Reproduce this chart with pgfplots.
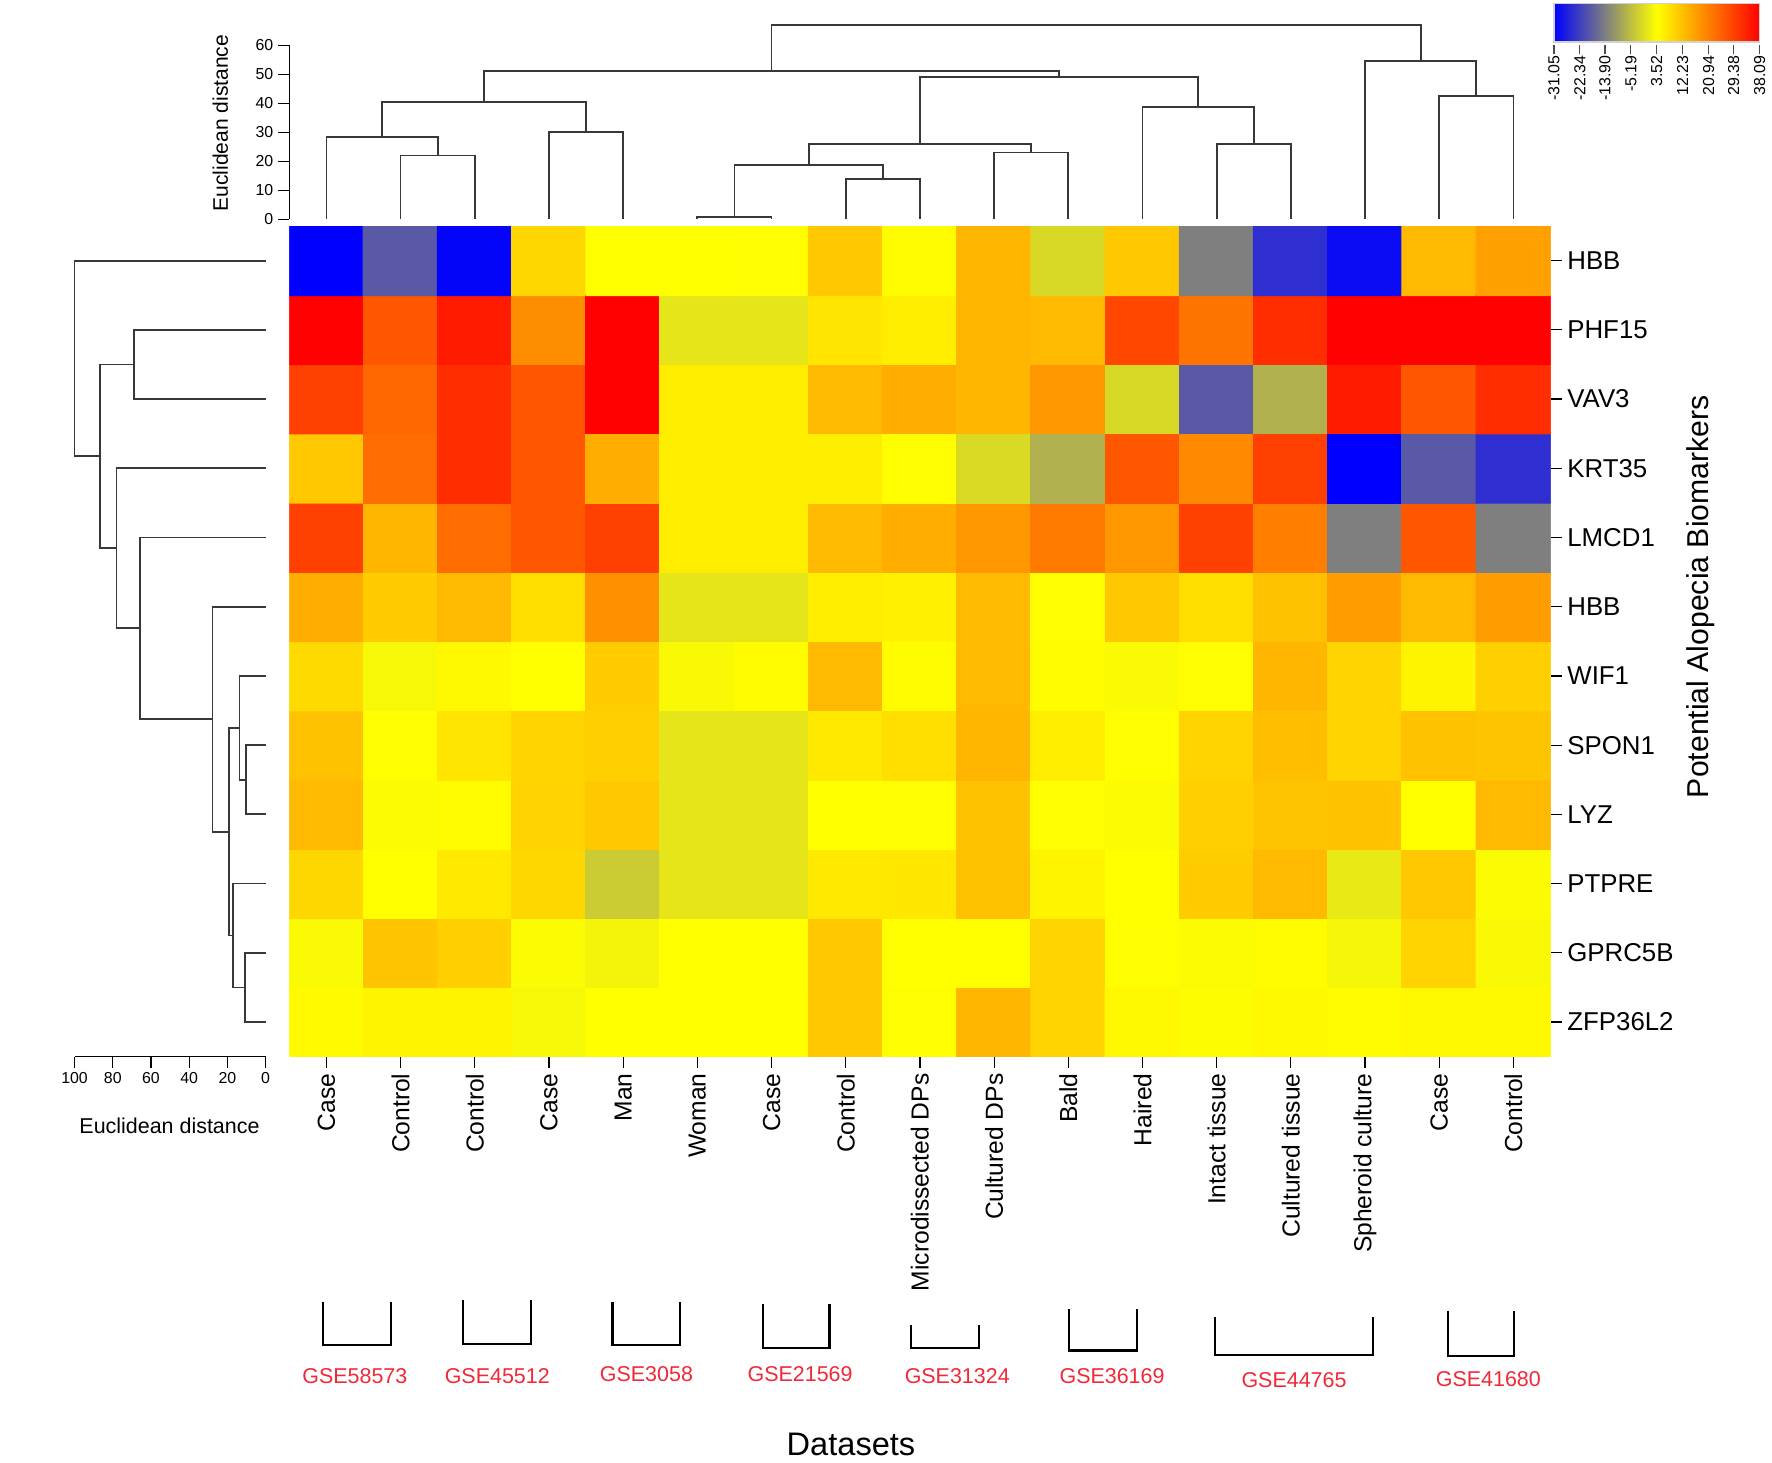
\documentclass[border=0pt]{standalone}
\usepackage{fontspec}
\setmainfont{Liberation Sans}
\usepackage{pgfplots}
\usepackage{pgfplotstable}
\pgfplotsset{compat=1.18}

\definecolor{dendro}{gray}{0.22}
\definecolor{gsered}{RGB}{240,40,55}

% heatmap values: x = column, y = row from bottom (1 = ZFP36L2, 12 = HBB)
\pgfplotstableread{
x y v
1 1 4.2
2 1 5
3 1 5
4 1 2.5
5 1 3.5
6 1 3.5
7 1 3.5
8 1 11
9 1 3.7
10 1 13.5
11 1 9.5
12 1 4.5
13 1 3.2
14 1 4.5
15 1 4
16 1 4.5
17 1 4.5
1 2 2.8
2 2 11.5
3 2 10
4 2 3
5 2 2
6 2 3.5
7 2 3.5
8 2 11
9 2 3.6
10 2 3.6
11 2 9.5
12 2 3.7
13 2 3
14 2 4
15 2 2.3
16 2 9.5
17 2 2.7
1 3 9
2 3 3.6
3 3 6.5
4 3 9
5 3 -3.5
6 3 0
7 3 0
8 3 6.5
9 3 6.8
10 3 12
11 3 5
12 3 3.6
13 3 10.5
14 3 13
15 3 0.5
16 3 11
17 3 3
1 4 13
2 4 3
3 4 4
4 4 9.6
5 4 11
6 4 0
7 4 0
8 4 3.6
9 4 3.8
10 4 12
11 4 3.7
12 4 3
13 4 10
14 4 11.5
15 4 12
16 4 3.6
17 4 13
1 5 12
2 5 3.7
3 5 7
4 5 9.5
5 5 10
6 5 0
7 5 0
8 5 6.5
9 5 8
10 5 13.5
11 5 6
12 5 3.8
13 5 9.5
14 5 12.3
15 5 9.5
16 5 12
17 5 11.5
1 6 8.5
2 6 2.5
3 6 4.5
4 6 3.5
5 6 10.5
6 6 2.7
7 6 4
8 6 13
9 6 4
10 6 13
11 6 4
12 6 2.8
13 6 3.8
14 6 13.5
15 6 9.5
16 6 5
17 6 10
1 7 14.5
2 7 10.5
3 7 13
4 7 8
5 7 18.5
6 7 0
7 7 0
8 7 6
9 7 5.5
10 7 13
11 7 3.8
12 7 11
13 7 8
14 7 12
15 7 17
16 7 13
17 7 17
1 8 29.5
2 8 13.5
3 8 23.5
4 8 26.5
5 8 29.5
6 8 6
7 8 6
8 8 13
9 8 14.5
10 8 17.5
11 8 21.5
12 8 17.5
13 8 29.5
14 8 21
15 8 -13.8
16 8 26.5
17 8 -13.8
1 9 11
2 9 23.5
3 9 32
4 9 26.5
5 9 14.5
6 9 6
7 9 6
8 9 6
9 9 3.8
10 9 -1.5
11 9 -7.2
12 9 26.5
13 9 19.5
14 9 29.5
15 9 -31
16 9 -19
17 9 -24.8
1 10 29.5
2 10 24
3 10 32
4 10 26.5
5 10 38
6 10 6
7 10 6
8 10 13
9 10 14.5
10 10 13.5
11 10 17.5
12 10 -1.7
13 10 -19
14 10 -7.2
15 10 34.5
16 10 26.5
17 10 32
1 11 38
2 11 26.5
3 11 34.5
4 11 19
5 11 38
6 11 0
7 11 0
8 11 7
9 11 6
10 11 13.5
11 11 13
12 11 28.5
13 11 22.5
14 11 32
15 11 38
16 11 38
17 11 38
1 12 -31
2 12 -19
3 12 -30.5
4 12 9
5 12 3.5
6 12 3.5
7 12 3.8
8 12 11
9 12 4
10 12 13.5
11 12 -1.7
12 12 11
13 12 -13.8
14 12 -24.8
15 12 -29.5
16 12 13
17 12 16.5
}\hmdata

\pgfplotsset{dl/.style={draw=dendro, line width=0.45pt, mark=none}}

\begin{document}
\begin{tikzpicture}
\path (0,0) rectangle (156.8mm,-129.4mm);

% heatmap
\begin{axis}[
    at={(25.6mm,-20mm)}, anchor=north west,
    scale only axis, width=111.6mm, height=73.5mm,
    xmin=0.5, xmax=17.5, ymin=0.5, ymax=12.5,
    axis x line*=bottom, axis y line*=right,
    axis line style={draw=none},
    tick align=outside, major tick length=1mm,
    tick style={black, line width=0.3pt},
    xtick={1,...,17}, ytick={1,...,12},
    xticklabels={Case,Control,Control,Case,Man,Woman,Case,Control,Microdissected DPs,Cultured DPs,Bald,Haired,Intact tissue,Cultured tissue,Spheroid culture,Case,Control},
    yticklabels={ZFP36L2,GPRC5B,PTPRE,LYZ,SPON1,WIF1,HBB,LMCD1,KRT35,VAV3,PHF15,HBB},
    xticklabel style={rotate=90, anchor=east, font=\fontsize{6.2}{7}\selectfont, inner sep=1.2pt},
    yticklabel style={font=\fontsize{6.5}{7}\selectfont, inner sep=1.2pt},
    colormap={byr}{rgb=(0,0,1) rgb=(1,1,0) rgb=(1,0,0)},
    point meta min=-31.05, point meta max=38.09,
    colorbar horizontal,
    colorbar style={
        at={(1.0027,1.268)}, anchor=north west,
        scale only axis, width=18.2mm, height=3.4mm,
        xtick={-31.05,-22.34,-13.90,-5.19,3.52,12.23,20.94,29.38,38.09},
        xticklabels={-31.05,-22.34,-13.90,-5.19,3.52,12.23,20.94,29.38,38.09},
        xticklabel style={rotate=90, anchor=east, font=\fontsize{4}{4}\selectfont, inner sep=1pt},
        xtick pos=left, tick align=outside, major tick length=0.8mm,
        xtick style={black!70, yshift=-0.3mm},
        axis line style={gray!35},
    },
]
\addplot[matrix plot*, mesh/cols=17, point meta=explicit]
    table[x=x, y=y, meta=v] {\hmdata};
\end{axis}

% column dendrogram
\begin{axis}[
    at={(25.6mm,-19.4mm)}, anchor=south west,
    scale only axis, width=111.6mm, height=15.4mm,
    xmin=0.5, xmax=17.5, ymin=0, ymax=60,
    clip=false,
    axis y line*=left, axis x line=none,
    ytick={0,10,...,60},
    tick align=outside, major tick length=1mm,
    tick style={black, line width=0.3pt},
    axis line style={black, line width=0.4pt},
    yticklabel style={font=\fontsize{4}{4}\selectfont, inner sep=1pt},
    /pgf/number format/assume math mode=true,
]
\addplot[dl] coordinates {(2,0) (2,22) (3,22) (3,0)};
\addplot[dl] coordinates {(1,0) (1,28.4) (2.5,28.4) (2.5,22)};
\addplot[dl] coordinates {(4,0) (4,30) (5,30) (5,0)};
\addplot[dl] coordinates {(1.75,28.4) (1.75,40.5) (4.5,40.5) (4.5,30)};
\addplot[dl] coordinates {(6,0) (6,0.8) (7,0.8) (7,0)};
\addplot[dl] coordinates {(8,0) (8,14) (9,14) (9,0)};
\addplot[dl] coordinates {(6.5,0.8) (6.5,18.7) (8.5,18.7) (8.5,14)};
\addplot[dl] coordinates {(10,0) (10,23) (11,23) (11,0)};
\addplot[dl] coordinates {(7.5,18.7) (7.5,26) (10.5,26) (10.5,23)};
\addplot[dl] coordinates {(13,0) (13,26) (14,26) (14,0)};
\addplot[dl] coordinates {(12,0) (12,38.6) (13.5,38.6) (13.5,26)};
\addplot[dl] coordinates {(9,26) (9,49) (12.75,49) (12.75,38.6)};
\addplot[dl] coordinates {(3.125,40.5) (3.125,51) (10.875,51) (10.875,49)};
\addplot[dl] coordinates {(16,0) (16,42.5) (17,42.5) (17,0)};
\addplot[dl] coordinates {(15,0) (15,54.5) (16.5,54.5) (16.5,42.5)};
\addplot[dl] coordinates {(7,51) (7,67) (15.75,67) (15.75,54.5)};
\end{axis}

% row dendrogram
\begin{axis}[
    at={(6.6mm,-20mm)}, anchor=north west,
    scale only axis, width=16.9mm, height=73.5mm,
    xmin=0, xmax=100, x dir=reverse, ymin=0.5, ymax=12.5,
    clip=false,
    axis x line*=bottom, axis y line=none,
    xtick={0,20,...,100},
    tick align=outside, major tick length=1mm,
    tick style={black, line width=0.3pt},
    axis line style={black, line width=0.4pt},
    xticklabel style={font=\fontsize{4}{4}\selectfont, inner sep=1pt},
    /pgf/number format/assume math mode=true,
]
\addplot[dl] coordinates {(0,2) (10.8,2) (10.8,1) (0,1)};
\addplot[dl] coordinates {(0,3) (17.2,3) (17.2,1.5) (10.8,1.5)};
\addplot[dl] coordinates {(0,5) (10.3,5) (10.3,4) (0,4)};
\addplot[dl] coordinates {(0,6) (13.7,6) (13.7,4.5) (10.3,4.5)};
\addplot[dl] coordinates {(13.7,5.25) (19.3,5.25) (19.3,2.25) (17.2,2.25)};
\addplot[dl] coordinates {(0,7) (27.8,7) (27.8,3.75) (19.3,3.75)};
\addplot[dl] coordinates {(0,8) (65.6,8) (65.6,5.375) (27.8,5.375)};
\addplot[dl] coordinates {(0,9) (78,9) (78,6.6875) (65.6,6.6875)};
\addplot[dl] coordinates {(0,11) (69,11) (69,10) (0,10)};
\addplot[dl] coordinates {(69,10.5) (86.8,10.5) (86.8,7.84375) (78,7.84375)};
\addplot[dl] coordinates {(0,12) (100,12) (100,9.171875) (86.8,9.171875)};
\end{axis}

% titles and dataset brackets
\begin{scope}[x=0.1mm, y=-0.1mm, every node/.style={inner sep=0pt}]
\node[rotate=90, font=\fontsize{5.3}{6}\selectfont] at (195,109) {Euclidean distance};
\node[font=\fontsize{5.4}{6}\selectfont] at (150,996) {Euclidean distance};
\node[rotate=90, font=\fontsize{7.6}{9}\selectfont] at (1505,528) {Potential Alopecia Biomarkers};
\node[font=\fontsize{8.2}{10}\selectfont] at (753,1278) {Datasets};
\begin{scope}[line width=0.55pt]
\draw (286,1152) -- (286,1190) -- (346,1190) -- (346,1152);
\draw (410,1150) -- (410,1189) -- (470,1189) -- (470,1150);
\draw (542,1152) -- (542,1190) -- (602,1190) -- (602,1152);
\draw (675,1154) -- (675,1193) -- (734,1193) -- (734,1154);
\draw (806,1172) -- (806,1193) -- (866,1193) -- (866,1172);
\draw (946,1158) -- (946,1195) -- (1006,1195) -- (1006,1158);
\draw (1075,1165) -- (1075,1199) -- (1215,1199) -- (1215,1165);
\draw (1281,1160) -- (1281,1200) -- (1340,1200) -- (1340,1160);
\end{scope}
\begin{scope}[font=\fontsize{5.4}{6}\selectfont, text=gsered]
\node at (314,1218) {GSE58573};
\node at (440,1218) {GSE45512};
\node at (572,1216) {GSE3058};
\node at (708,1216) {GSE21569};
\node at (847,1218) {GSE31324};
\node at (984,1218) {GSE36169};
\node at (1145,1221) {GSE44765};
\node at (1317,1220) {GSE41680};
\end{scope}
\end{scope}
\end{tikzpicture}
\end{document}
